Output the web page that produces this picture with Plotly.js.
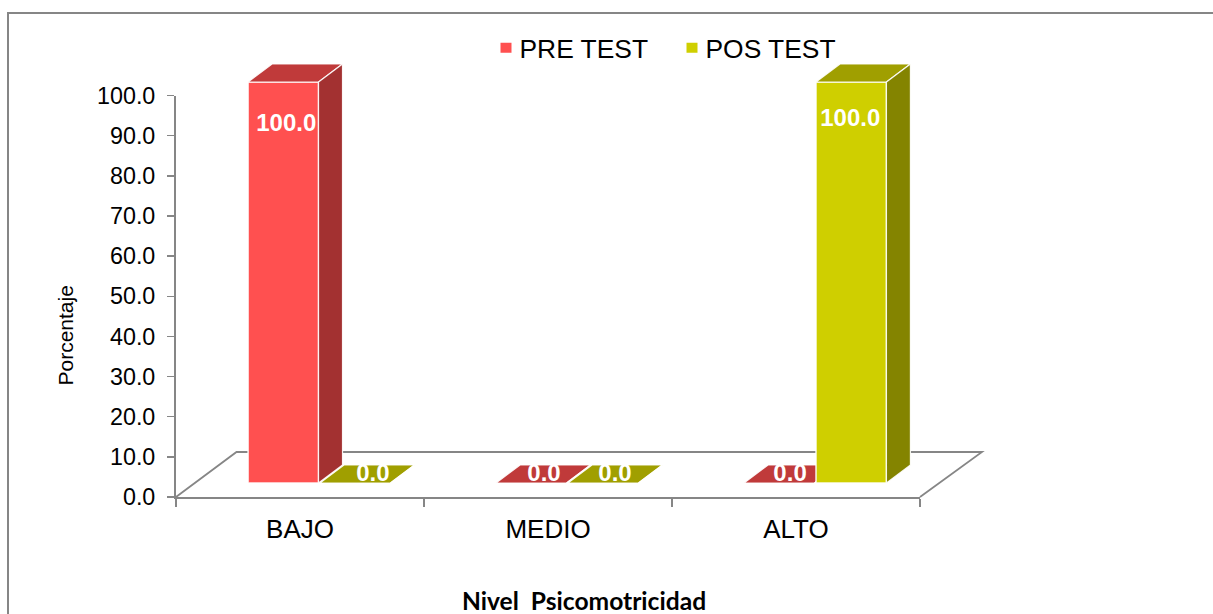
<!DOCTYPE html>
<html>
<head>
<meta charset="utf-8">
<script src="https://cdn.plot.ly/plotly-3.0.1.min.js"></script>
<style>html,body{margin:0;padding:0;background:#fff}</style>
</head>
<body>
<div id="chart" style="width:1213px;height:614px"></div>
<script>
const categories = ["BAJO", "MEDIO", "ALTO"];
const preTest = [100.0, 0.0, 0.0];
const posTest = [0.0, 0.0, 100.0];
const seriesNames = ["PRE TEST", "POS TEST"];
const xTitle = "Nivel\u00A0\u00A0Psicomotricidad";
const yTitle = "Porcentaje";

const W = 1213, H = 614;
const px = v => v / W, py = v => 1 - v / H;
const barW = 0.284;
const depthX = 24 / 248, depthY = 18 / 4.01;
const xs = categories.map((_, i) => i);

function faces(values, off, kind) {
  const X = [], Y = [];
  values.forEach((v, i) => {
    const a = i + off, b = a + barW;
    if (kind === "top") {
      X.push(a, b, b + depthX, a + depthX, a, null);
      Y.push(v, v, v + depthY, v + depthY, v, null);
    } else {
      X.push(b, b + depthX, b + depthX, b, b, null);
      Y.push(0, depthY, v + depthY, v, 0, null);
    }
  });
  return {X, Y};
}

function series(values, off, name, front, top, side, xa, ya) {
  const t = faces(values, off, "top"), s = faces(values, off, "side");
  const edge = {color: "rgba(255,255,255,0.9)", width: 1.2};
  return [
    {type: "bar", x: xs, y: values, width: barW, offset: off, xaxis: xa, yaxis: ya, showlegend: false,
     name: name, marker: {color: front, line: {color: "rgba(255,255,255,0.9)", width: 1.5}}, hoverinfo: "skip"},
    {type: "scatter", mode: "lines", x: t.X, y: t.Y, fill: "toself", fillcolor: top, line: edge,
     xaxis: xa, yaxis: ya, showlegend: false, hoverinfo: "skip", cliponaxis: false},
    {type: "scatter", mode: "lines", x: s.X, y: s.Y, fill: "toself", fillcolor: side, line: edge,
     xaxis: xa, yaxis: ya, showlegend: false, hoverinfo: "skip", cliponaxis: false}
  ];
}

const preOff = -0.29, posOff = 0;
const fontMain = "Liberation Sans, Arial, sans-serif";

// labels sit on the front face of tall bars and on the floor face of zero bars
function labels(values, off, tallY, nudgeX) {
  return {
    type: "scatter", mode: "text",
    x: values.map((v, i) => i + off + barW / 2 + (v > 0 ? 0 : depthX / 2 - 0.005) + nudgeX[i]),
    y: values.map(v => v > 0 ? tallY : depthY / 2 - 0.2),
    text: values.map(v => v.toFixed(1)),
    textposition: "middle center",
    textfont: {family: fontMain, size: 24, color: "#ffffff", weight: 700},
    xaxis: "x3", yaxis: "y3", showlegend: false, hoverinfo: "skip", cliponaxis: false
  };
}

// legend swatches: a short thick dash gives an 11px square close to the text
const swatchDash = "0px,16px,11px,100px";
const data = [
  {type: "scatter", mode: "lines", x: [null], y: [null], name: seriesNames[0],
   line: {color: "#FF5050", width: 11, dash: swatchDash}, xaxis: "x", yaxis: "y"},
  {type: "scatter", mode: "lines", x: [null], y: [null], name: seriesNames[1],
   line: {color: "#CFCF00", width: 11, dash: swatchDash}, xaxis: "x", yaxis: "y"},
  ...series(preTest, preOff, seriesNames[0], "#FF5050", "#C03A3A", "#A33131", "x2", "y2"),
  ...series(posTest, posOff, seriesNames[1], "#CFCF00", "#A09F00", "#848400", "x3", "y3"),
  labels(preTest, preOff, 89.2, [0.012, 0.008, 0]),
  labels(posTest, posOff, 90.4, [0.028, 0.004, -0.004])
];

const hidden = {visible: false, fixedrange: true};
const x2dom = [px(196), px(940)], y2dom = [py(483), py(483 - 4.01 * 110)];
const layout = {
  width: W, height: H,
  margin: {l: 0, r: 0, t: 0, b: 0},
  paper_bgcolor: "#ffffff", plot_bgcolor: "rgba(0,0,0,0)",
  showlegend: true,
  legend: {orientation: "h", x: px(479.5), y: py(48), xanchor: "left", yanchor: "middle",
           font: {family: fontMain, size: 26.4, color: "#000"}, entrywidth: 141, entrywidthmode: "pixels",
           itemwidth: 30, bgcolor: "rgba(0,0,0,0)", traceorder: "normal"},
  xaxis: {domain: [px(176), px(920)], range: [-0.5, 2.5], anchor: "y", fixedrange: true,
          tickvals: xs, ticktext: categories, ticks: "", showgrid: false, zeroline: false,
          showline: true, linecolor: "#868686", linewidth: 2,
          tickfont: {family: fontMain, size: 26, color: "#000"}, ticklabelstandoff: 8,
          minor: {tickvals: [-0.5, 0.5, 1.5, 2.5], ticks: "outside", ticklen: 8, tickwidth: 1.5, tickcolor: "#868686", showgrid: false}},
  yaxis: {domain: [py(497), py(95.5)], range: [0, 100], anchor: "x", fixedrange: true,
          dtick: 10, tick0: 0, tickformat: ".1f", ticks: "outside", ticklen: 7, tickwidth: 1.5, tickcolor: "#868686",
          showgrid: false, zeroline: false, showline: true, linecolor: "#868686", linewidth: 2,
          tickfont: {family: fontMain, size: 23.3, color: "#000"}, ticklabelstandoff: 7},
  xaxis2: Object.assign({domain: x2dom, range: [-0.5, 2.5], anchor: "y2"}, hidden),
  yaxis2: Object.assign({domain: y2dom, range: [0, 110], anchor: "x2"}, hidden),
  xaxis3: Object.assign({domain: x2dom, range: [-0.5, 2.5], anchor: "y3"}, hidden),
  yaxis3: Object.assign({domain: y2dom, range: [0, 110], anchor: "x3"}, hidden),
  annotations: [
    {xref: "paper", yref: "paper", x: px(584), y: py(600), xanchor: "center", yanchor: "middle", showarrow: false,
     text: xTitle, font: {family: "Lato, sans-serif", size: 24.6, color: "#000", weight: 700}},
    {xref: "paper", yref: "paper", x: px(65), y: py(335.5), xanchor: "center", yanchor: "middle", showarrow: false,
     text: yTitle, textangle: -90, font: {family: fontMain, size: 21, color: "#000"}}
  ],
  shapes: [
    {type: "path", xref: "paper", yref: "paper", layer: "below",
     path: `M ${px(8)} ${py(614)} L ${px(8)} ${py(13)} L ${px(1213)} ${py(13)}`,
     line: {color: "#868686", width: 2}},
    {type: "path", xref: "paper", yref: "paper", layer: "below",
     path: `M ${px(176)} ${py(497)} L ${px(236.5)} ${py(452)} L ${px(982)} ${py(452)} L ${px(920)} ${py(497)}`,
     line: {color: "#868686", width: 1.8}}
  ]
};

Plotly.newPlot("chart", data, layout, {displayModeBar: false, staticPlot: true});
</script>
</body>
</html>
